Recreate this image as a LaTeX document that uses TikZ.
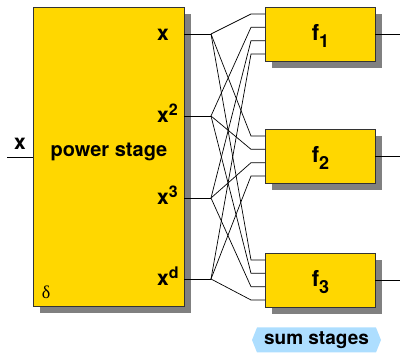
\documentclass[tikz,border=0pt]{standalone}
\usepackage{fontspec}
\setsansfont{TeX Gyre Heros}
\newfontfamily\greekserif{Liberation Serif}
\usetikzlibrary{shadows,shapes.symbols}
\definecolor{boxyellow}{HTML}{FFD700}
\definecolor{sumblue}{HTML}{ADDEFF}
\begin{document}
\begin{tikzpicture}[x=1pt,y=-1pt,
  block/.style={draw=black!80, line width=0.8pt, fill=boxyellow, inner sep=0pt,
    drop shadow={shadow xshift=7pt, shadow yshift=-7pt, fill=black!50, opacity=1}},
  wire/.style={line width=0.7pt, black},
  big/.style={font=\fontsize{21}{25}\selectfont\sffamily\bfseries, inner sep=0pt},
  flabel/.style={font=\fontsize{22}{26}\selectfont\sffamily\bfseries, inner sep=0pt, anchor=base},
  sumtag/.style={shape=signal, signal to=west and east, signal pointer angle=136,
    fill=sumblue, draw=none, minimum width=129pt, minimum height=25pt, inner sep=0pt,
    font=\fontsize{19}{22}\selectfont\sffamily\bfseries}
 ]
\useasboundingbox (0,0) rectangle (400,353);

% power stage
\node[block, minimum width=151pt, minimum height=299pt] (P) at (108.5,156.5) {};
\node[big, font=\fontsize{20}{24}\selectfont\sffamily\bfseries] (ps) at (109,152) {power stage};
\node[inner sep=0pt, font=\fontsize{18}{20}\selectfont\greekserif] (delta) at (46,292.5) {δ};

% input
\coordinate (xin) at (7,157);
\draw[wire] (xin) -- (P.west |- xin);
\node[big, anchor=base] (xlab) at (20,150) {x};

% outputs
\node[big, anchor=base west] (l1) at (157,41) {x};
\node[big, anchor=base west] (l2) at (157,123) {x\raisebox{7.5pt}{\fontsize{16}{16}\selectfont 2}};
\node[big, anchor=base west] (l3) at (157,205) {x\raisebox{7.5pt}{\fontsize{16}{16}\selectfont 3}};
\node[big, anchor=base west] (l4) at (157,286) {x\raisebox{7.5pt}{\fontsize{16}{16}\selectfont d}};

\foreach \i/\y in {1/34,2/116,3/198,4/279} {
  \coordinate (o\i) at (184,\y);
  \coordinate (b\i) at (211,\y);
}

% sum stages
\foreach \j/\c in {1/34,2/156,3/280} {
  \node[block, minimum width=110pt, minimum height=54pt] (f\j) at (320,\c) {};
  \pgfmathsetmacro{\yb}{\c+7}
  \node[flabel] (ft\j) at (320.5,\yb) {f\raisebox{-7pt}{\fontsize{18}{18}\selectfont \j}};
  \coordinate (fo\j) at (400,\c);
  \draw[wire] (f\j.east) -- (fo\j);
  \foreach \i/\off in {1/-20,2/-6.7,3/6.7,4/20} {
    \pgfmathsetmacro{\yy}{\c+\off}
    \coordinate (s\j\i) at (251,\yy);
    \coordinate (in\j\i) at (265,\yy);
  }
}

\foreach \i in {1,2,3,4} {
  \draw[wire] (o\i) -- (b\i);
  \foreach \j in {1,2,3} {
    \draw[wire] (b\i) -- (s\j\i) -- (in\j\i);
  }
}

\node[sumtag] (sum) at (316.5,340) {\raisebox{-1pt}{sum stages}};
\end{tikzpicture}
\end{document}
